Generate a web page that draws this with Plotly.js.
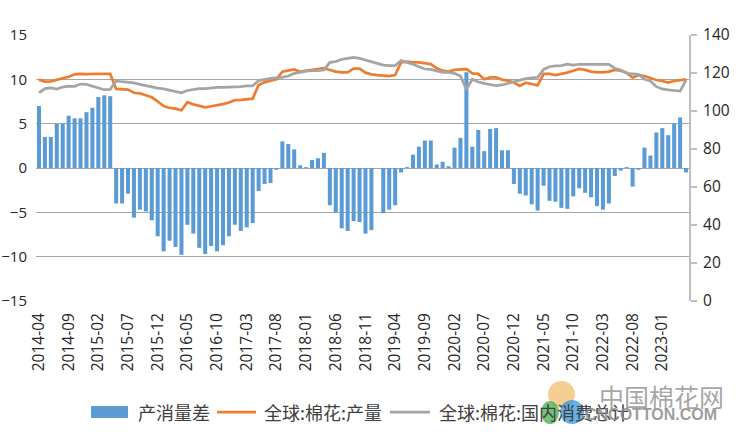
<!DOCTYPE html>
<html>
<head>
<meta charset="utf-8">
<script src="https://cdn.plot.ly/plotly-3.0.1.min.js"></script>
<style>
  html, body { margin: 0; padding: 0; background: #ffffff; }
  #chart { width: 754px; height: 438px; }
</style>
</head>
<body>
<div id="chart"></div>
<script>
// ---- categories (months) ----
const months = [
  '2014-04','2014-05','2014-06','2014-07','2014-08','2014-09','2014-10','2014-11','2014-12',
  '2015-01','2015-02','2015-03','2015-04','2015-05','2015-06','2015-07','2015-08','2015-09','2015-10','2015-11','2015-12',
  '2016-01','2016-02','2016-03','2016-04','2016-05','2016-06','2016-07','2016-08','2016-09','2016-10','2016-11','2016-12',
  '2017-01','2017-02','2017-03','2017-04','2017-05','2017-06','2017-07','2017-08','2017-09','2017-10','2017-11','2017-12',
  '2018-01','2018-02','2018-03','2018-04','2018-05','2018-06','2018-07','2018-08','2018-09','2018-10','2018-11','2018-12',
  '2019-01','2019-02','2019-03','2019-04','2019-05','2019-06','2019-07','2019-08','2019-09','2019-10','2019-11','2019-12',
  '2020-01','2020-02','2020-03','2020-04','2020-05','2020-06','2020-07','2020-08','2020-09','2020-10','2020-11','2020-12',
  '2021-01','2021-02','2021-03','2021-04','2021-05','2021-06','2021-07','2021-08','2021-09','2021-10','2021-11','2021-12',
  '2022-01','2022-02','2022-03','2022-04','2022-05','2022-06','2022-07','2022-08','2022-09','2022-10','2022-11','2022-12',
  '2023-01','2023-02','2023-03','2023-04','2023-05'
];

// ---- tick labels shown on the x axis ----
const xTickLabels = [
  '2014-04','2014-09','2015-02','2015-07','2015-12','2016-05','2016-10','2017-03','2017-08',
  '2018-01','2018-06','2018-11','2019-04','2019-09','2020-02','2020-07','2020-12','2021-05',
  '2021-10','2022-03','2022-08','2023-01'
];

// ---- series names ----
const nameDiff = '产消量差';
const nameProd = '全球:棉花:产量';
const nameCons = '全球:棉花:国内消费总计';

// ---- 产消量差 (left axis) ----
const diff = [
  7.0, 3.5, 3.5, 5.0, 5.0, 5.9, 5.6, 5.6, 6.3, 6.8, 8.0, 8.2, 8.1,
  -4.0, -4.0, -2.9, -5.6, -4.7, -4.9, -5.9, -7.7, -9.4, -8.2, -8.9, -9.8,
  -6.4, -7.4, -9.0, -9.7, -8.8, -9.4, -8.7, -7.7, -6.4, -7.1, -6.7, -6.2, -2.6,
  -1.8, -1.7, -0.2, 3.0, 2.7, 2.1, 0.3, 0.1, 0.9, 1.1, 1.7,
  -4.2, -5.0, -6.8, -7.1, -6.0, -6.1, -7.4, -7.0, null, -5.1, -4.7, -4.2,
  -0.5, 0.1, 1.5, 2.4, 3.1, 3.1, 0.4, 0.7, 0.2, 2.3, 3.4, 10.8,
  2.4, 4.3, 1.9, 4.4, 4.5, 2.0, 2.0, -1.8, -2.9, -3.1, -4.1, -4.8,
  -2.0, -3.7, -3.8, -4.5, -4.6, -3.2, -2.3, -2.8, -3.3, -4.3, -4.7, -4.0,
  -0.9, -0.3, 0.1, -2.1, -0.2, 2.3, 1.4, 4.0, 4.5, 3.7, 5.0, 5.7, -0.5
];

// ---- 全球:棉花:产量 (right axis) ----
const production = [
  116.5, 115.5, 115.6, 116.3, 117.2, 118.0, 119.3, 119.6, 119.4, 119.3, 119.5, 119.6, 119.5,
  111.6, 111.6, 111.3, 109.6, 109.3, 108.3, 107.2, 105.0, 102.6, 101.6, 101.2, 100.4,
  104.7, 103.5, 102.7, 101.9, 102.5, 103.0, 103.6, 104.5, 105.7, 105.8, 106.0, 106.5, 113.7,
  115.1, 116.0, 116.7, 120.7, 121.2, 121.9, 120.7, 121.2, 121.6, 122.1, 122.5,
  121.6, 120.7, 120.3, 120.3, 122.3, 122.3, 120.2, 119.3, 118.9, 118.8, 118.4, 118.9,
  125.6, 126.0, 125.6, 125.6, 125.1, 124.7, 122.5, 121.2, 120.7, 121.6, 121.9, 122.1,
  119.8, 119.5, 116.7, 117.7, 117.7, 116.5, 116.0, 115.0, 113.2, 114.9, 114.2, 113.5,
  119.5, 119.5, 118.9, 119.5, 120.2, 121.2, 122.1, 121.6, 120.7, 120.3, 120.3, 120.7,
  121.6, 121.2, 120.2, 117.5, 118.9, 118.4, 117.2, 116.3, 115.8, 114.9, 115.8, 116.3, 116.7
];

// ---- 全球:棉花:国内消费总计 (right axis) ----
const consumption = [
  109.5, 111.8, 112.2, 111.5, 112.6, 113.1, 113.0, 114.2, 114.0, 113.0, 111.8, 111.2, 111.4,
  115.8, 115.4, 115.0, 114.8, 114.0, 113.2, 112.4, 112.0, 111.6, 110.8, 110.0, 109.6,
  110.8, 111.3, 111.8, 111.8, 112.2, 112.4, 112.4, 112.5, 112.8, 112.8, 113.2, 113.2, 116.0,
  116.8, 117.2, 117.5, 117.7, 118.4, 119.8, 120.3, 121.0, 121.2, 121.2, 121.6,
  125.6, 126.0, 127.2, 127.7, 128.2, 127.7, 126.8, 126.0, 125.1, 124.2, 123.9, 123.9,
  126.5, 125.6, 124.6, 123.3, 122.1, 121.9, 121.2, 120.3, 120.3, 119.8, 118.4, 111.4,
  116.7, 115.3, 114.5, 113.7, 113.3, 113.7, 114.6, 115.1, 116.0, 117.0, 117.5, 117.7,
  121.9, 123.3, 123.7, 123.9, 124.6, 124.2, 124.6, 124.6, 124.6, 124.6, 124.9, 124.6,
  122.5, 121.6, 119.8, 119.5, 119.3, 116.7, 115.8, 112.8, 111.6, 111.1, 110.7, 110.5, 116.3
];

const leftTicks = [-15, -10, -5, 0, 5, 10, 15];
const rightTicks = [0, 20, 40, 60, 80, 100, 120, 140];

// ---- styling ----
const W = 754, H = 438;
const M = { l: 36, r: 65, t: 35, b: 137 };
const PW = W - M.l - M.r, PH = H - M.t - M.b;
const px = x => (x - M.l) / PW;          // pixel -> paper x
const py = y => (H - M.b - y) / PH;      // pixel -> paper y

const cBar = '#5B9BD5', cProd = '#ED7D31', cCons = '#A5A5A5';
const tickFont = { family: 'Open Sans, Liberation Sans, sans-serif', size: 15.5, color: '#262626' };
const leftTickFont = { family: 'Open Sans, Liberation Sans, sans-serif', size: 15, color: '#262626' };
const legFont = { family: 'Noto Sans CJK SC, sans-serif', size: 18, color: '#404040' };

const traces = [
  { type: 'bar', x: months, y: diff, name: nameDiff, marker: { color: cBar }, yaxis: 'y', hoverinfo: 'skip' },
  { type: 'scatter', mode: 'lines', x: months, y: production, name: nameProd, yaxis: 'y2',
    line: { color: cProd, width: 2.75 }, hoverinfo: 'skip' },
  { type: 'scatter', mode: 'lines', x: months, y: consumption, name: nameCons, yaxis: 'y2',
    line: { color: cCons, width: 2.75 }, hoverinfo: 'skip' }
];

const layout = {
  width: W, height: H,
  margin: M,
  paper_bgcolor: '#ffffff', plot_bgcolor: '#ffffff',
  showlegend: false,
  bargap: 0.32,
  xaxis: {
    type: 'category', range: [-0.5, months.length - 0.5],
    tickmode: 'array', tickvals: xTickLabels, ticktext: xTickLabels,
    tickangle: -90, tickfont: tickFont, ticks: '', ticklabelstandoff: 8,
    showgrid: false, showline: false, zeroline: false
  },
  yaxis: {
    range: [-15, 15], tickmode: 'array', tickvals: leftTicks,
    tickfont: leftTickFont, ticks: '', ticklabelstandoff: 8,
    showgrid: true, gridcolor: '#A6A6A6', gridwidth: 1,
    zeroline: false, showline: false
  },
  yaxis2: {
    overlaying: 'y', side: 'right', range: [0, 140],
    tickmode: 'array', tickvals: rightTicks,
    tickfont: tickFont, ticks: 'outside', ticklen: 6, tickwidth: 1.5, tickcolor: '#BFBFBF',
    showline: true, linecolor: '#BFBFBF', linewidth: 2,
    showgrid: false, zeroline: false, ticklabelstandoff: 3
  },
  shapes: [
    // legend symbols
    { type: 'rect', xref: 'paper', yref: 'paper', x0: px(91), x1: px(128), y0: py(418), y1: py(406),
      fillcolor: cBar, line: { width: 0 } },
    { type: 'line', xref: 'paper', yref: 'paper', x0: px(217), x1: px(256), y0: py(412), y1: py(412),
      line: { color: cProd, width: 2.75 } },
    { type: 'line', xref: 'paper', yref: 'paper', x0: px(390), x1: px(430), y0: py(412), y1: py(412),
      line: { color: cCons, width: 2.75 } },
    // watermark logo
    { type: 'circle', xref: 'paper', yref: 'paper', x0: px(548), x1: px(575), y0: py(408), y1: py(381),
      fillcolor: 'rgba(240,190,110,0.75)', line: { width: 0 } },
    { type: 'circle', xref: 'paper', yref: 'paper', x0: px(541), x1: px(559), y0: py(424), y1: py(401),
      fillcolor: 'rgba(70,170,80,0.75)', line: { width: 0 } },
    { type: 'circle', xref: 'paper', yref: 'paper', x0: px(560), x1: px(584), y0: py(424), y1: py(400),
      fillcolor: 'rgba(50,150,220,0.75)', line: { width: 0 } }
  ],
  annotations: [
    { xref: 'paper', yref: 'paper', x: px(136), y: py(412), xanchor: 'left', yanchor: 'middle',
      text: nameDiff, showarrow: false, font: legFont },
    { xref: 'paper', yref: 'paper', x: px(262), y: py(412), xanchor: 'left', yanchor: 'middle',
      text: nameProd, showarrow: false, font: legFont },
    { xref: 'paper', yref: 'paper', x: px(437), y: py(412), xanchor: 'left', yanchor: 'middle',
      text: nameCons, showarrow: false, font: legFont },
    { xref: 'paper', yref: 'paper', x: px(597), y: py(396), xanchor: 'left', yanchor: 'middle',
      text: '中国棉花网', showarrow: false,
      font: { family: 'Noto Sans CJK SC, sans-serif', size: 25, color: 'rgba(150,150,150,0.85)' } },
    { xref: 'paper', yref: 'paper', x: px(583), y: py(414), xanchor: 'left', yanchor: 'middle',
      text: '<b>CNCOTTON.COM</b>', showarrow: false,
      font: { family: 'Liberation Sans, Arial, sans-serif', size: 16, color: 'rgba(140,140,140,0.85)' } }
  ]
};

Plotly.newPlot('chart', traces, layout, { displayModeBar: false, staticPlot: true });
</script>
</body>
</html>
